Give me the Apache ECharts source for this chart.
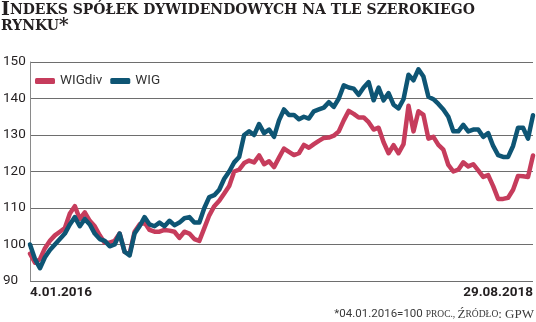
<!DOCTYPE html>
<html>
<head>
<meta charset="utf-8">
<script src="https://cdn.jsdelivr.net/npm/echarts@6/dist/echarts.min.js"></script>
<style>
html,body{margin:0;padding:0;background:#fff;}
#c{width:536px;height:322px;}
</style>
</head>
<body>
<div id="c"></div>
<script>
// --- data ---
const seriesNames = ['WIGdiv', 'WIG'];
const xTickLabels = ['4.01.2016', '29.08.2018'];
const yTicks = [90, 100, 110, 120, 130, 140, 150];

const wigdiv = [97.5,95,96,99,101,102.5,103.5,104.5,108.5,110.5,107,108.8,106.5,105,102.5,100.5,100.5,101,103,98,97.5,103.5,105.5,106,104,103.5,103.5,104,103.8,103.5,101.8,103.5,103,101.5,101,104.5,108,110.5,112,114,116,120,120.5,122.3,123,122.5,124.4,122,122.8,121.2,123.8,126.3,125.4,124.5,125,127.3,126.5,127.5,128.4,129.2,129.3,129.8,131,134,136.6,135.8,134.8,134.8,133.5,131.5,132,128,125,127.2,125,127.5,138,131,136.5,135.5,129,129.5,127.3,126,121.8,120,120.5,122.5,121.4,122,120.3,118.5,119,116,112.5,112.5,112.8,115,118.8,118.7,118.5,124.4];

const wig = [100,96,93.5,96.5,98.5,100,101.5,103,105.5,107.5,105,107,105.5,103,101.5,101,99.5,100,103,98,97,103,105,107.5,105.5,105,106,105,106.5,105.3,106,107.2,107.5,106,106,110,113,113.5,115,118,120,122.5,124,130,131,130,133,130.5,131.5,129.5,134,137,135.5,135.5,134.3,135,134.5,136.5,137,137.5,139,137.7,140,143.6,143,142.7,141,143,144.5,139.5,143,139.5,141.5,138.3,137.3,139.8,146.5,145,148,146,140.5,139.8,138.5,137,135,131,131,132.8,131,131.5,131.5,129.5,130.5,127,124.5,124,124,127,132,132,129,135.4];

const categories = wig.map((_, i) => String(i));
const lastIdx = categories.length - 1;

const RED = '#c63c5c';
const BLUE = '#0e5574';
const SANS = "'Roboto','Liberation Sans',sans-serif";
const SERIF = "'DejaVu Serif','Liberation Serif',serif";
const SERIF2 = "'Liberation Serif','DejaVu Serif',serif";

const chart = echarts.init(document.getElementById('c'), null, {renderer: 'canvas'});
chart.setOption({
  animation: false,
  backgroundColor: '#fff',
  title: [{
    left: 1, top: 2, padding: 0,
    text: '{b|I}{s|NDEKS SPÓŁEK DYWIDENDOWYCH NA TLE SZEROKIEGO}\n{s|RYNKU}{b|*}',
    textStyle: {
      rich: {
        b: {fontFamily: SERIF, fontWeight: 'bold', fontSize: 19, color: '#231f20', lineHeight: 16},
        s: {fontFamily: SERIF, fontWeight: 'bold', fontSize: 14, color: '#231f20', lineHeight: 16}
      }
    }
  }, {
    right: 2, bottom: 1, padding: 0,
    text: '{n|*04.01.2016=100 }{s|PROC., }{m|Ź}{s|RÓDŁO}{m|: GPW}',
    textStyle: {
      fontWeight: 'normal',
      rich: {
        n: {fontFamily: SANS, fontWeight: 'normal', fontSize: 11.5, color: '#3a3a3a'},
        m: {fontFamily: SERIF2, fontWeight: 'normal', fontSize: 13, color: '#3a3a3a'},
        s: {fontFamily: SERIF2, fontWeight: 'normal', fontSize: 9.5, color: '#3a3a3a'}
      }
    }
  }],
  legend: {
    left: 35, top: 74, padding: 0,
    itemWidth: 20, itemHeight: 6, itemGap: 8,
    icon: 'roundRect',
    textStyle: {fontFamily: SANS, fontSize: 13.5, color: '#333'},
    data: seriesNames
  },
  grid: {left: 27, right: 3, top: 62, bottom: 41, containLabel: false},
  xAxis: {
    type: 'category',
    data: categories,
    boundaryGap: false,
    axisLine: {show: false},
    axisTick: {show: false},
    splitLine: {show: false},
    axisLabel: {
      interval: (i) => i === 0 || i === lastIdx,
      formatter: (v, i) => i === 0 ? xTickLabels[0] : (i === lastIdx ? xTickLabels[1] : ''),
      alignMinLabel: 'left',
      alignMaxLabel: 'right',
      fontFamily: SANS, fontSize: 13.5, fontWeight: 'bold', color: '#231f20', margin: 5
    }
  },
  yAxis: {
    type: 'value',
    min: yTicks[0], max: yTicks[yTicks.length - 1], interval: 10,
    axisLine: {show: true, lineStyle: {color: '#8a8a8a', width: 1}},
    axisTick: {show: false},
    splitLine: {show: true, lineStyle: {color: '#6e6e6e', width: 1}},
    axisLabel: {
      align: 'left', margin: 27,
      fontFamily: SANS, fontSize: 13.5, color: '#231f20'
    }
  },
  series: [{
    name: seriesNames[0], type: 'line', data: wigdiv,
    showSymbol: false, symbol: 'none',
    lineStyle: {color: RED, width: 4.5, join: 'round', cap: 'round'},
    itemStyle: {color: RED}
  }, {
    name: seriesNames[1], type: 'line', data: wig,
    showSymbol: false, symbol: 'none',
    lineStyle: {color: BLUE, width: 4.5, join: 'round', cap: 'round'},
    itemStyle: {color: BLUE}
  }]
});
</script>
</body>
</html>
